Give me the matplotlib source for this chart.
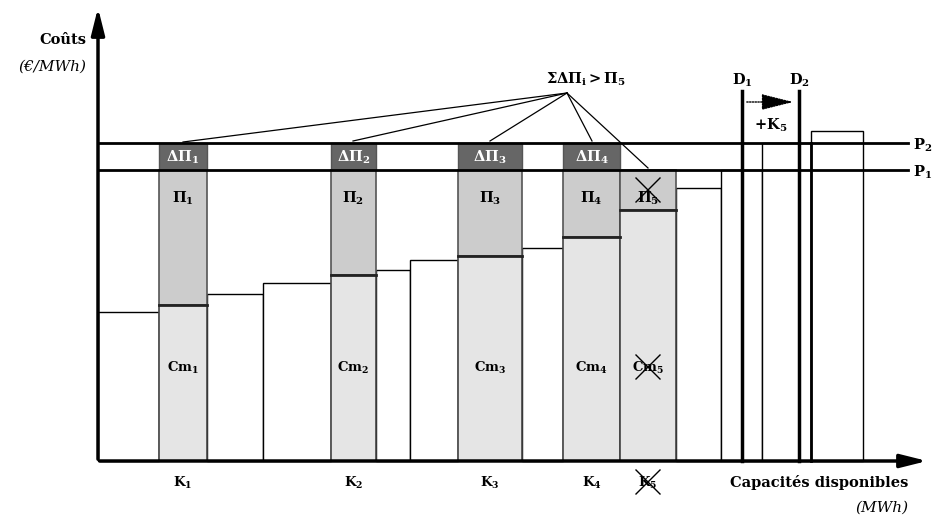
import numpy as np
import matplotlib.pyplot as plt
from matplotlib.patches import Rectangle

plt.rcParams['font.family'] = ['DejaVu Serif']
plt.rcParams['mathtext.fontset'] = 'dejavuserif'

# merit order: left edge of each unit, its width (capacity) and marginal cost
bar_left = [0, 61, 109, 165, 233, 278, 312, 360, 424, 465, 522, 578, 623, 664, 713]
bar_width = [61, 48, 56, 68, 45, 34, 48, 64, 41, 57, 56, 45, 41, 49, 52]
bar_cost = [149, 156, 167, 178, 186, 191, 201, 205, 213, 224, 251, 273, 291, 318, 330]
# indices of the units K1..K5 and their labels
k_idx = [1, 4, 7, 9, 10]
k_names = ['1', '2', '3', '4', '5']
P1 = 291
P2 = 318
D1 = 644
D2 = 701
sum_point = (469, 368)

fig = plt.figure(figsize=(9.32, 5.22), dpi=100)
ax = fig.add_axes([0, 0, 1, 1])
ax.set_xlim(-98, 834)
ax.set_ylim(-61, 461)
ax.axis('off')

# plain units
for i in range(len(bar_left)):
    if i in k_idx:
        continue
    ax.add_patch(Rectangle((bar_left[i], 0), bar_width[i], bar_cost[i],
                           facecolor='white', edgecolor='black', lw=1.0, zorder=2))
ax.plot([713, 713], [0, P2], color='black', lw=2, zorder=3)

# the K units: marginal cost, rent, extra rent
for j, i in enumerate(k_idx):
    x0, w, c = bar_left[i], bar_width[i], bar_cost[i]
    ax.add_patch(Rectangle((x0, 0), w, c, facecolor='#e5e5e5', edgecolor='#444444', lw=1.2, zorder=2))
    ax.add_patch(Rectangle((x0, c), w, P1 - c, facecolor='#cccccc', edgecolor='#555555', lw=1.2, zorder=2))
    ax.plot([x0, x0 + w], [c, c], color='#222222', lw=2, zorder=3)
    xc = x0 + w / 2
    n = k_names[j]
    if j < 4:
        ax.add_patch(Rectangle((x0, P1), w, P2 - P1, facecolor='#666666', edgecolor='#555555', lw=1, zorder=2))
        ax.text(xc, (P1 + P2) / 2 - 1, r'$\mathbf{\Delta\Pi_{%s}}$' % n, color='white',
                ha='center', va='center', fontsize=10.5, zorder=4)
    ax.text(xc, 263, r'$\mathbf{\Pi_{%s}}$' % n, ha='center', va='center', fontsize=10.5, zorder=4)
    ax.text(xc, 93, r'$\mathbf{Cm_{%s}}$' % n, ha='center', va='center', fontsize=9.5, zorder=4)
    ax.text(xc, -22, r'$\mathbf{K_{%s}}$' % n, ha='center', va='center', fontsize=9.5, zorder=4)

# crosses on unit 5
xc5 = bar_left[10] + bar_width[10] / 2
for yc in [271, 94, -21]:
    ax.plot([xc5 - 12, xc5 + 12], [yc + 12, yc - 12], color='black', lw=1, zorder=5)
    ax.plot([xc5 - 12, xc5 + 12], [yc - 12, yc + 12], color='black', lw=1, zorder=5)

# price levels
ax.plot([0, 810], [P2, P2], color='black', lw=2, zorder=3)
ax.plot([0, 810], [P1, P1], color='black', lw=2, zorder=3)
ax.text(815, P2 - 2, r'$\mathbf{P_2}$', ha='left', va='center', fontsize=10.5)
ax.text(815, P1 - 2, r'$\mathbf{P_1}$', ha='left', va='center', fontsize=10.5)

# lines towards the rents
targets = [(85, 319), (255, 320), (392, 320), (494, 320), (550, 293)]
for tx, ty in targets:
    ax.plot([sum_point[0], tx], [sum_point[1], ty], color='black', lw=0.9, zorder=3)
ax.text(488, 382, r'$\mathbf{\Sigma\Delta\Pi_i > \Pi_5}$', ha='center', va='center', fontsize=10.5)

# demand curves
ax.plot([D1, D1], [0, 370], color='black', lw=2.5, zorder=4)
ax.plot([D2, D2], [0, 370], color='black', lw=2.5, zorder=4)
ax.text(D1, 381, r'$\mathbf{D_1}$', ha='center', va='center', fontsize=10.5)
ax.text(D2, 381, r'$\mathbf{D_2}$', ha='center', va='center', fontsize=10.5)
ax.annotate('', xy=(D2 - 3, 359), xytext=(D1 + 2, 359),
            arrowprops=dict(arrowstyle='-|>,head_length=2.0,head_width=0.5', color='black',
                            lw=1, ls=(0, (1, 1))), zorder=5)
ax.text((D1 + D2) / 2, 336, r'$\mathbf{+K_5}$', ha='center', va='center', fontsize=10.5)

# axes with arrows
ax.annotate('', xy=(0, 456), xytext=(0, -1),
            arrowprops=dict(arrowstyle='-|>,head_length=1.6,head_width=0.4', color='black', lw=2.5))
ax.annotate('', xy=(832, 0), xytext=(-1, 0),
            arrowprops=dict(arrowstyle='-|>,head_length=1.6,head_width=0.4', color='black', lw=2.5))

ax.text(-12, 421, 'Coûts', ha='right', va='center', fontsize=10.5, fontweight='bold')
ax.text(-12, 394, '(€/MWh)', ha='right', va='center', fontsize=11, style='italic')
ax.text(810, -22, 'Capacités disponibles', ha='right', va='center', fontsize=10.5, fontweight='bold')
ax.text(810, -47, '(MWh)', ha='right', va='center', fontsize=11, style='italic')

fig.savefig('out.png', dpi=100)
